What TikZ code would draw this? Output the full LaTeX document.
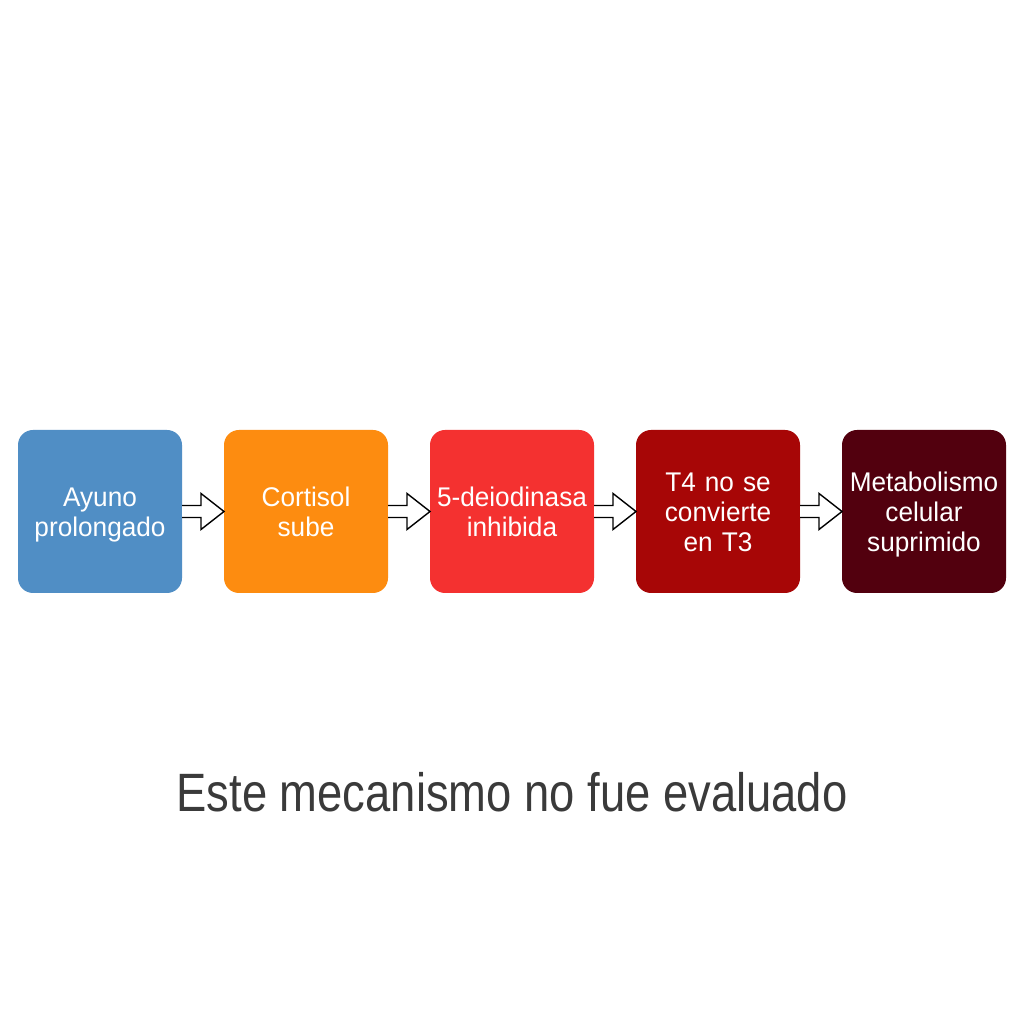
\documentclass[tikz,border=0pt]{standalone}
\usepackage{fontspec}
\setmainfont{Liberation Sans}[FakeStretch=0.97]
\newfontfamily\notefont{Liberation Sans}[FakeStretch=0.84]
\usepackage{tikz}
\usetikzlibrary{positioning, calc}
\usepackage{xcolor}
\definecolor{ayunoblue}{RGB}{80,142,197}
\definecolor{cortisolorange}{RGB}{253,140,16}
\definecolor{deiodred}{RGB}{244,49,48}
\definecolor{tfourred}{RGB}{167,6,6}
\definecolor{metabmaroon}{RGB}{82,0,14}
\definecolor{notegray}{RGB}{58,58,58}

\newcommand{\topstrut}{\rule{0pt}{29pt}}
\newcommand{\flowarrow}[2]{%
  \draw[blockarrow] ($(#1.east)+(0pt,6pt)$) -- ($(#2.west)+(-23pt,6pt)$) -- ($(#2.west)+(-23pt,18pt)$)
    -- (#2.west) -- ($(#2.west)+(-23pt,-18pt)$) -- ($(#2.west)+(-23pt,-6pt)$) -- ($(#1.east)+(0pt,-6pt)$);
}

\begin{document}
\begin{tikzpicture}[
        line join=miter,
        stepnode/.style={shape=rectangle, rounded corners=15pt, minimum width=164pt, minimum height=163pt,
                         inner sep=0pt, outer sep=0pt, text width=162pt, align=center, text=white,
                         font=\fontsize{27pt}{30pt}\selectfont,
                         execute at begin node=\topstrut, execute at end node=\strut},
        blockarrow/.style={draw=black, fill=white, line width=1.4pt}
        ]

        %% Canvas
        \useasboundingbox[fill=white] (0pt, 0pt) rectangle (1024pt, 1024pt);

        %% Steps
        \node[stepnode, fill=ayunoblue] (ayuno) at (100pt, 512.5pt) {Ayuno\\prolongado};
        \node[stepnode, fill=cortisolorange, right=42pt of ayuno] (cortisol) {Cortisol\\sube};
        \node[stepnode, fill=deiodred, right=42pt of cortisol] (deiod) {5-deiodinasa\\inhibida};
        \node[stepnode, fill=tfourred, right=42pt of deiod] (tfour) {T4 no se\\convierte\\en T3};
        \node[stepnode, fill=metabmaroon, right=42pt of tfour] (metab) {Metabolismo\\celular\\suprimido};

        %% Arrows
        \flowarrow{ayuno}{cortisol}
        \flowarrow{cortisol}{deiod}
        \flowarrow{deiod}{tfour}
        \flowarrow{tfour}{metab}

        %% Note
        \node[anchor=base, text=notegray, font=\notefont\fontsize{54pt}{60pt}\selectfont] (note) at (512pt, 212pt)
            {Este mecanismo no fue evaluado};
\end{tikzpicture}
\end{document}
